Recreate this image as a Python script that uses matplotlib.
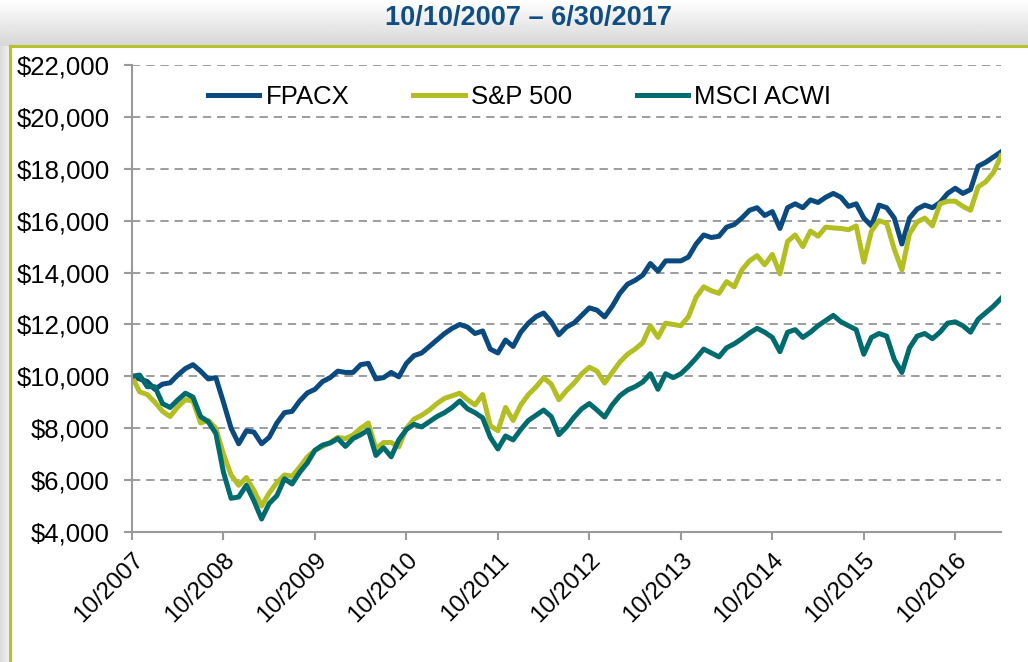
import matplotlib
matplotlib.use("Agg")
import matplotlib.pyplot as plt
import numpy as np

plt.rcParams['font.family'] = ['Liberation Sans', 'DejaVu Sans']

# monthly-ish samples, growth of $10,000 from 10/10/2007
fpacx = [10000, 9900, 9800, 9500, 9700, 9750, 10050, 10300, 10450, 10200,
         9900, 9950, 9000, 8000, 7400, 7900, 7850, 7400, 7650, 8200,
         8600, 8650, 9050, 9360, 9500, 9800, 9950, 10200, 10150, 10150,
         10450, 10500, 9900, 9950, 10150, 9980, 10500, 10800, 10900, 11150,
         11400, 11650, 11850, 12000, 11900, 11650, 11750, 11050, 10900, 11400,
         11150, 11700, 12050, 12300, 12440, 12100, 11600, 11900, 12060, 12350,
         12640, 12550, 12290, 12700, 13200, 13550, 13700, 13900, 14350, 14050,
         14450, 14450, 14450, 14600, 15100, 15450, 15350, 15400, 15750, 15850,
         16100, 16400, 16500, 16200, 16350, 15700, 16500, 16650, 16500, 16800,
         16700, 16900, 17050, 16900, 16550, 16650, 16100, 15800, 16600, 16500,
         16100, 15100, 16100, 16450, 16600, 16500, 16700, 17050, 17250, 17050,
         17200, 18100, 18250, 18450, 18650]
sp500 = [10000, 9400, 9300, 9000, 8650, 8450, 8820, 9100, 9050, 8200,
         8300, 8000, 7000, 6200, 5800, 6100, 5600, 5000, 5500, 5900,
         6200, 6150, 6500, 6890, 7150, 7300, 7450, 7650, 7600, 7740,
         8000, 8200, 7200, 7450, 7450, 7280, 8000, 8350, 8500, 8700,
         8950, 9150, 9250, 9350, 9100, 8900, 9300, 8100, 7900, 8800,
         8300, 8900, 9300, 9590, 9940, 9700, 9100, 9450, 9740, 10100,
         10350, 10200, 9740, 10150, 10550, 10850, 11050, 11300, 11950, 11500,
         12050, 12000, 11950, 12300, 13050, 13450, 13300, 13200, 13650, 13450,
         14100, 14450, 14650, 14300, 14700, 13950, 15200, 15450, 15000, 15600,
         15400, 15750, 15720, 15700, 15650, 15800, 14400, 15600, 16000, 15900,
         14900, 14100, 15500, 15950, 16100, 15800, 16650, 16750, 16750, 16550,
         16400, 17300, 17500, 17850, 18500]
msci_acwi = [10000, 10050, 9600, 9600, 8950, 8800, 9090, 9350, 9200, 8450,
             8250, 7800, 6300, 5300, 5350, 5800, 5200, 4500, 5100, 5400,
             6050, 5850, 6300, 6660, 7150, 7350, 7430, 7600, 7300, 7600,
             7750, 7930, 6950, 7250, 6900, 7550, 7950, 8150, 8050, 8250,
             8450, 8600, 8800, 9050, 8750, 8600, 8400, 7650, 7200, 7700,
             7550, 7950, 8300, 8500, 8700, 8450, 7750, 8050, 8430, 8750,
             8950, 8700, 8430, 8900, 9250, 9470, 9600, 9780, 10100, 9500,
             10100, 9950, 10100, 10380, 10700, 11050, 10900, 10750, 11100, 11250,
             11450, 11670, 11850, 11700, 11500, 10950, 11700, 11800, 11500, 11700,
             11950, 12150, 12350, 12100, 11950, 11800, 10850, 11500, 11650, 11550,
             10650, 10150, 11100, 11550, 11650, 11450, 11700, 12050, 12100, 11950,
             11700, 12200, 12450, 12700, 13000]

tick_labels = ['10/2007', '10/2008', '10/2009', '10/2010', '10/2011',
               '10/2012', '10/2013', '10/2014', '10/2015', '10/2016']
series_names = ['FPACX', 'S&P 500', 'MSCI ACWI']
series_colors = ['#0b4a7f', '#b2be22', '#006b6e']
title = '10/10/2007 \u2013 6/30/2017'

fig = plt.figure(figsize=(10.28, 6.62), dpi=100)

# header band with soft gray gradient and olive frame
band = fig.add_axes([0, 1 - 46 / 662, 1, 46 / 662], zorder=0)
grad = np.linspace(1.0, 0.84, 50).reshape(-1, 1)
band.imshow(grad, aspect='auto', cmap='gray', vmin=0, vmax=1,
            extent=[0, 1, 0, 1])
band.axis('off')
side = fig.add_axes([0, 0, 10 / 1028, 1 - 46 / 662], zorder=0)
side.imshow(np.linspace(0.86, 0.95, 20).reshape(1, -1), aspect='auto',
            cmap='gray', vmin=0, vmax=1, extent=[0, 1, 0, 1])
side.axis('off')
fig.add_artist(plt.Line2D([10 / 1028, 1], [1 - 46 / 662] * 2,
                          color='#b5c22a', lw=2.2, transform=fig.transFigure))
fig.add_artist(plt.Line2D([10 / 1028] * 2, [0, 1 - 46 / 662],
                          color='#b5c22a', lw=2.2, transform=fig.transFigure))

fig.text(0.514, 1 - 18 / 662, title, ha='center', va='center',
         fontsize=19.5, fontweight='bold', color='#0f4e84')

ax = fig.add_axes([132 / 1028, 1 - 532 / 662, 869 / 1028, 467 / 662], zorder=2)
ax.patch.set_alpha(0)

x = np.arange(len(fpacx))
for vals, name, col in zip([fpacx, sp500, msci_acwi], series_names, series_colors):
    ax.plot(x, vals, color=col, lw=3.6, label=name, solid_joinstyle='round')

ax.set_xlim(0, len(fpacx) - 1)
ax.set_ylim(4000, 22000)
ax.set_yticks(np.arange(4000, 22001, 2000))
ax.set_yticklabels(['${:,}'.format(v) for v in range(4000, 22001, 2000)])
ax.set_xticks(np.arange(0, 12 * len(tick_labels), 12))
ax.set_xticklabels(tick_labels, rotation=45, ha='right', rotation_mode='anchor')

ax.yaxis.grid(True, color='#8c8c8c', lw=1.2, linestyle=(0, (5, 3.5)))
ax.set_axisbelow(True)
for s in ['top', 'right']:
    ax.spines[s].set_visible(False)
for s in ['left', 'bottom']:
    ax.spines[s].set_color('#9a9a9a')
    ax.spines[s].set_linewidth(1.5)
ax.tick_params(axis='both', colors='#9a9a9a', length=6, width=1.5,
               labelcolor='black', labelsize=18.5)
ax.tick_params(axis='y', pad=10)
ax.tick_params(axis='x', pad=6, labelsize=17.5)

leg = ax.legend(loc='center', bbox_to_anchor=(0.446, 0.931), ncol=3,
                frameon=False, fontsize=18.5, handlelength=2.0,
                handletextpad=0.25, columnspacing=2.5)

fig.savefig('out.png', dpi=100)
